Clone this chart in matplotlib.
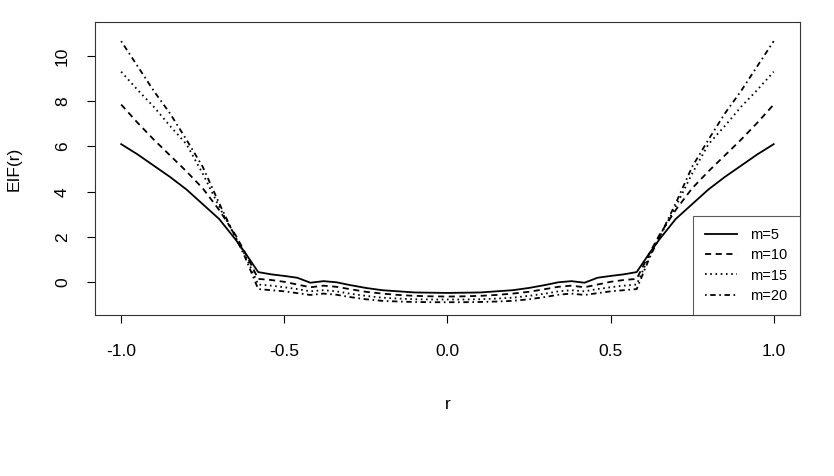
import matplotlib
matplotlib.use("Agg")
import matplotlib.pyplot as plt

plt.rcParams['font.family'] = ['Liberation Sans', 'DejaVu Sans']

r = [-1.0, -0.95, -0.9, -0.85, -0.8, -0.75, -0.7, -0.65, -0.62, -0.58,
     -0.54, -0.5, -0.46, -0.42, -0.38, -0.34, -0.3, -0.25, -0.2, -0.15, -0.1, -0.05, 0.0,
     0.05, 0.1, 0.15, 0.2, 0.25, 0.3, 0.34, 0.38, 0.42, 0.46, 0.5, 0.54,
     0.58, 0.62, 0.65, 0.7, 0.75, 0.8, 0.85, 0.9, 0.95, 1.0]

m5 = [6.1, 5.65, 5.15, 4.65, 4.1, 3.45, 2.8, 1.9, 1.3, 0.45,
      0.35, 0.28, 0.2, -0.02, 0.05, 0.0, -0.12, -0.25, -0.35, -0.4, -0.45, -0.46, -0.47,
      -0.46, -0.45, -0.4, -0.35, -0.25, -0.12, 0.0, 0.05, -0.02, 0.2, 0.28, 0.35,
      0.45, 1.3, 1.9, 2.8, 3.45, 4.1, 4.65, 5.15, 5.65, 6.1]

m10 = [7.85, 7.05, 6.3, 5.6, 4.9, 4.15, 3.2, 2.1, 1.3, 0.15,
       0.1, 0.02, -0.1, -0.22, -0.15, -0.2, -0.3, -0.42, -0.5, -0.56, -0.6, -0.62, -0.63,
       -0.62, -0.6, -0.56, -0.5, -0.42, -0.3, -0.2, -0.15, -0.22, -0.1, 0.02, 0.1,
       0.15, 1.3, 2.1, 3.2, 4.15, 4.9, 5.6, 6.3, 7.05, 7.85]

m15 = [9.3, 8.5, 7.75, 6.9, 6.1, 4.8, 3.35, 2.0, 1.2, -0.1,
       -0.15, -0.22, -0.3, -0.4, -0.35, -0.4, -0.5, -0.6, -0.68, -0.72, -0.75, -0.76, -0.76,
       -0.76, -0.75, -0.72, -0.68, -0.6, -0.5, -0.4, -0.35, -0.4, -0.3, -0.22, -0.15,
       -0.1, 1.2, 2.0, 3.35, 4.8, 6.1, 6.9, 7.75, 8.5, 9.3]

m20 = [10.65, 9.55, 8.45, 7.45, 6.3, 5.1, 3.5, 2.0, 1.1, -0.3,
       -0.35, -0.4, -0.48, -0.56, -0.5, -0.55, -0.65, -0.75, -0.82, -0.85, -0.87, -0.88, -0.88,
       -0.88, -0.87, -0.85, -0.82, -0.75, -0.65, -0.55, -0.5, -0.56, -0.48, -0.4, -0.35,
       -0.3, 1.1, 2.0, 3.5, 5.1, 6.3, 7.45, 8.45, 9.55, 10.65]

labels = ["m=5", "m=10", "m=15", "m=20"]
x_ticks = [-1.0, -0.5, 0.0, 0.5, 1.0]
y_ticks = [0, 2, 4, 6, 8, 10]

styles = ['-', (0, (3.4, 2.5)), (0, (0.9, 2.0)), (0, (0.9, 2.0, 3.0, 2.0))]

fig = plt.figure(figsize=(8.34, 4.76), dpi=100)
ax = fig.add_axes([0.114, 0.338, 0.845, 0.616])

for ys, ls, lab in zip([m5, m10, m15, m20], styles, labels):
    ax.plot(r, ys, color='black', lw=1.3, linestyle=ls, label=lab)

ax.set_xlim(-1.08, 1.08)
ax.set_ylim(-1.45, 11.5)
ax.set_xticks(x_ticks)
ax.set_xticklabels([f"{v:.1f}" for v in x_ticks])
ax.set_yticks(y_ticks)
ax.set_yticklabels([str(v) for v in y_ticks], rotation=90, va='center')
ax.tick_params(direction='out', length=6, width=0.8, labelsize=12.5)
ax.tick_params(axis='x', pad=15)
ax.tick_params(axis='y', pad=12)
for s in ax.spines.values():
    s.set_linewidth(0.8)
    s.set_color('#333333')

ax.set_xlabel("r", fontsize=12.5, labelpad=27)
ax.set_ylabel("EIF(r)", fontsize=12.5, labelpad=24)

leg = ax.legend(loc='lower right', frameon=True, fancybox=False, edgecolor='#333333',
                fontsize=10.5, handlelength=2.2, borderaxespad=0, borderpad=0.85,
                labelspacing=0.42, handletextpad=0.9)
leg.get_frame().set_linewidth(0.8)

fig.savefig("out.png", dpi=100)
